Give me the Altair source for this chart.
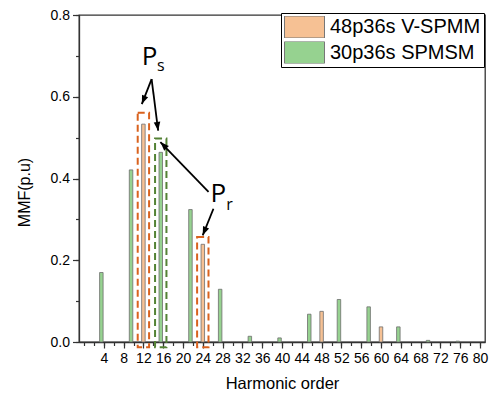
import math
import altair as alt
import pandas as pd

# ---------------- data ----------------
series_names = ["48p36s V-SPMM", "30p36s SPMSM"]
vspmm_orders = [12, 24, 48, 60]
vspmm_values = [0.533, 0.239, 0.075, 0.037]
spmsm_orders = [3, 9, 15, 21, 27, 33, 39, 45, 51, 57, 63, 69, 75]
spmsm_values = [0.170, 0.421, 0.464, 0.324, 0.129, 0.014, 0.010,
                0.068, 0.104, 0.086, 0.037, 0.004, 0.002]

x_label_values = list(range(4, 81, 4))
x_minor_values = list(range(0, 81, 2))
y_label_values = [0.0, 0.2, 0.4, 0.6, 0.8]
y_minor_values = [round(0.1 * i, 1) for i in range(9)]

# annotation boxes (dashed) around the highlighted harmonics
box_orders_v = [12, 24]
box_tops_v = [0.561, 0.257]
box_orders_s = [15]
box_tops_s = [0.498]
box_half = 1.15
box_bottom = -0.013

# annotation arrows (start -> end, in data units)
arrow_x1 = [13.66, 13.66, 25.16, 26.15]
arrow_y1 = [0.643, 0.643, 0.367, 0.326]
arrow_x2 = [11.68, 14.98, 15.43, 23.98]
arrow_y2 = [0.582, 0.517, 0.489, 0.261]

# annotation labels
big_text = ["P", "P"]
big_x = [13.24, 27.15]
big_y = [0.698, 0.361]
sub_text = ["s", "r"]
sub_x = [15.53, 29.42]
sub_y = [0.676, 0.335]

# ---------------- layout ----------------
W, H = 406, 327
XMAX, YMAX = 80, 0.8
PXX, PXY = W / XMAX, H / YMAX
GREEN_SHIFT = 2.5

orange_fill, green_fill = "#F6C194", "#96D290"
bar_stroke = "#6d6d6d"
font = "Liberation Sans"

df_v = pd.DataFrame({"order": vspmm_orders, "value": vspmm_values,
                     "series": series_names[0]})
df_s = pd.DataFrame({"order": spmsm_orders, "value": spmsm_values,
                     "series": series_names[1]})

xscale = alt.Scale(domain=[0, XMAX], nice=False, zero=False)
yscale = alt.Scale(domain=[0, YMAX], nice=False, zero=False)
cscale = alt.Scale(domain=series_names, range=[orange_fill, green_fill])

legend = alt.Legend(
    orient="none", legendX=202, legendY=-2, title=None,
    symbolType="M-1,-0.55L1,-0.55L1,0.55L-1,0.55Z", symbolSize=1600,
    clipHeight=22, rowPadding=3.5, padding=3, labelOffset=5,
    labelFontSize=20, labelFont=font, labelColor="black",
    fillColor="white", strokeColor="black",
    symbolStrokeColor="#777777", symbolStrokeWidth=1, symbolOpacity=1,
)

main_x_axis = alt.Axis(values=x_label_values, tickSize=6, labelFontSize=14,
                       labelPadding=3, title="Harmonic order",
                       titleFontSize=16.5, titleFontWeight="normal",
                       titleBaseline="alphabetic", titleY=46, orient="bottom")
main_y_axis = alt.Axis(values=y_label_values, format=".1f", tickSize=6.5,
                       labelFontSize=14, labelPadding=3, title="MMF(p.u)",
                       titleFontSize=16, titleFontWeight="normal",
                       titleX=-47, titleY=177, orient="left")
minor_x_axis = alt.Axis(values=x_minor_values, tickSize=3.5, labels=False,
                        domain=False, title=None, orient="bottom")
minor_y_axis = alt.Axis(values=y_minor_values, tickSize=3.5, labels=False,
                        domain=False, title=None, orient="left")

bars_v = alt.Chart(df_v).mark_bar(size=3.5, stroke=bar_stroke, strokeWidth=0.8).encode(
    x=alt.X("order:Q", scale=xscale, axis=main_x_axis),
    y=alt.Y("value:Q", scale=yscale, axis=main_y_axis),
    color=alt.Color("series:N", scale=cscale, legend=legend),
)
bars_s = alt.Chart(df_s).mark_bar(size=3.5, stroke=bar_stroke, strokeWidth=0.8,
                                  xOffset=GREEN_SHIFT).encode(
    x=alt.X("order:Q", scale=xscale, axis=None),
    y=alt.Y("value:Q", scale=yscale, axis=None),
    color=alt.Color("series:N", scale=cscale, legend=legend),
)
minor = alt.Chart(df_v).mark_point(opacity=0).encode(
    x=alt.X("order:Q", scale=xscale, axis=minor_x_axis),
    y=alt.Y("value:Q", scale=yscale, axis=minor_y_axis),
)

df_box_v = pd.DataFrame({"x1": [o - box_half for o in box_orders_v],
                         "x2": [o + box_half for o in box_orders_v],
                         "top": box_tops_v, "bottom": box_bottom})
df_box_s = pd.DataFrame({"x1": [o - box_half for o in box_orders_s],
                         "x2": [o + box_half for o in box_orders_s],
                         "top": box_tops_s, "bottom": box_bottom})

def boxes(df, colour, shift=0):
    return alt.Chart(df).mark_rect(fillOpacity=0, stroke=colour, strokeWidth=2,
                                   strokeDash=[7, 4], xOffset=shift, x2Offset=shift).encode(
        x=alt.X("x1:Q", scale=xscale, axis=None),
        x2="x2:Q",
        y=alt.Y("top:Q", scale=yscale, axis=None),
        y2="bottom:Q",
    )

box_layer_v = boxes(df_box_v, "#D9621E")
box_layer_s = boxes(df_box_s, "#548235", GREEN_SHIFT)

angles = []
for a, b, c, d in zip(arrow_x1, arrow_y1, arrow_x2, arrow_y2):
    dx = (c - a) * PXX
    dy = -(d - b) * PXY
    angles.append((math.degrees(math.atan2(dx, -dy)) + 360) % 360)
df_arrow = pd.DataFrame({"x1": arrow_x1, "y1": arrow_y1, "x2": arrow_x2,
                         "y2": arrow_y2, "angle": angles})

arrow_lines = alt.Chart(df_arrow).mark_rule(color="black", strokeWidth=1.8).encode(
    x=alt.X("x1:Q", scale=xscale, axis=None),
    y=alt.Y("y1:Q", scale=yscale, axis=None),
    x2="x2:Q", y2="y2:Q",
)
arrow_heads = alt.Chart(df_arrow).mark_point(
    shape="M0,0L-0.6,1.6L0.6,1.6Z", filled=True, color="black", opacity=1, size=120
).encode(
    x=alt.X("x2:Q", scale=xscale, axis=None),
    y=alt.Y("y2:Q", scale=yscale, axis=None),
    angle=alt.Angle("angle:Q", scale=None),
)

df_big = pd.DataFrame({"t": big_text, "x": big_x, "y": big_y})
df_sub = pd.DataFrame({"t": sub_text, "x": sub_x, "y": sub_y})
big_lbl = alt.Chart(df_big).mark_text(fontSize=26, font="Open Sans", color="black",
                                      baseline="middle", align="center").encode(
    x=alt.X("x:Q", scale=xscale, axis=None),
    y=alt.Y("y:Q", scale=yscale, axis=None), text="t:N")
sub_lbl = alt.Chart(df_sub).mark_text(fontSize=16, font="Open Sans", color="black",
                                      baseline="middle", align="center").encode(
    x=alt.X("x:Q", scale=xscale, axis=None),
    y=alt.Y("y:Q", scale=yscale, axis=None), text="t:N")

chart = alt.layer(
    minor, bars_v, bars_s, box_layer_v, box_layer_s,
    arrow_lines, arrow_heads, big_lbl, sub_lbl,
).resolve_axis(x="independent", y="independent").properties(
    width=W, height=H,
    autosize=alt.AutoSizeParams(type="none"),
    padding={"left": 71, "top": 7, "right": 5, "bottom": 48},
).configure_view(stroke="#333333", strokeWidth=1.3).configure_axis(
    grid=False, domainColor="#333333", tickColor="#333333", domainWidth=1.3,
    tickWidth=1.2, labelFont=font, titleFont=font, labelColor="black",
    titleColor="black",
)

chart.save("out.html", embed_options={"renderer": "svg", "actions": False})
